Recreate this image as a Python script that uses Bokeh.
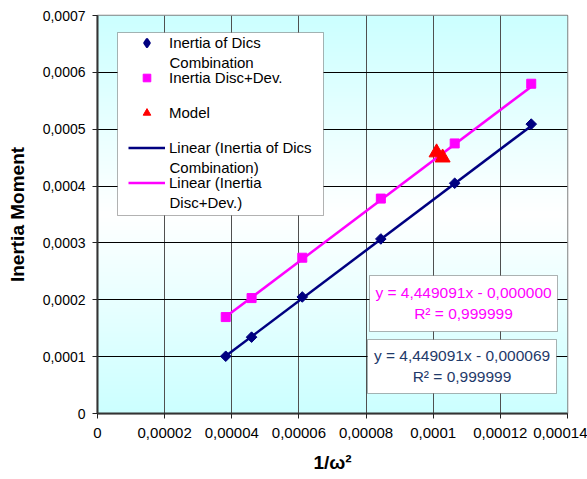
import numpy as np
from bokeh.plotting import figure
from bokeh.models import (Range1d, FixedTicker, CustomJSTickFormatter, Legend, LegendItem,
                          BoxAnnotation, Label)
from bokeh.embed import file_html
from bokeh.resources import INLINE

# ---------------- data ----------------
inv_omega2 = [0.0000382, 0.0000459, 0.0000610, 0.0000844, 0.0001064, 0.0001292]
inertia_discs = [0.0001007, 0.0001343, 0.0002050, 0.0003070, 0.0004050, 0.0005090]
inertia_disc_dev = [0.0001696, 0.0002030, 0.0002740, 0.0003780, 0.0004750, 0.0005800]
model_x = [0.0001010, 0.0001028]
model_y = [0.0004590, 0.0004500]

# trendline equations as shown on the chart
slope_discs, icpt_discs, r2_discs = 4.449091, -0.000069, 0.999999
slope_dev, icpt_dev, r2_dev = 4.449091, -0.000000, 0.999999

x_ticks = [0, 0.00002, 0.00004, 0.00006, 0.00008, 0.0001, 0.00012, 0.00014]
y_ticks = [0, 0.0001, 0.0002, 0.0003, 0.0004, 0.0005, 0.0006, 0.0007]
XMAX, YMAX = 0.00014, 0.0007

legend_first_lines = ["Inertia of Dics", "Inertia Disc+Dev.", "Model",
                      "Linear (Inertia of Dics", "Linear (Inertia"]
legend_second_lines = {0: "Combination", 3: "Combination)", 4: "Disc+Dev.)"}

# ---------------- layout constants (canvas pixels) ----------------
W, H = 587, 479
FL, FR, FT, FB = 97, 567, 15, 413   # frame edges on the canvas
FONT = "Liberation Sans"
NAVY = "#000080"
MAGENTA = "#FF00FF"
EQ_NAVY = "#1F3A6A"

LEG_L, LEG_R, LEG_T, LEG_B = 117, 323, 32, 215
LEG_GX0, LEG_ROW0, LEG_PITCH, LEG_GH, LEG_LINE2 = 128, 42, 35, 19, 20


def px2x(px):
    return (px - FL) / (FR - FL) * XMAX


def py2y(py):
    return (FB - py) / (FB - FT) * YMAX


p = figure(width=W, height=H, output_backend="svg", toolbar_location=None,
           x_range=Range1d(0, XMAX), y_range=Range1d(0, YMAX),
           min_border_left=FL, min_border_right=W - FR,
           min_border_top=FT, min_border_bottom=H - FB)
p.background_fill_color = "white"
p.border_fill_color = "white"
p.outline_line_color = "#808080"
p.outline_line_width = 1.5

# background gradient of the plot area (cyan - white - cyan)
ny = 200
t = np.abs(np.linspace(-1, 1, ny))
img = np.empty((ny, 1), dtype=np.uint32)
view = img.view(dtype=np.uint8).reshape((ny, 1, 4))
view[:, 0, 0] = (255 - 51 * t).astype(np.uint8)
view[:, 0, 1] = 255
view[:, 0, 2] = 255
view[:, 0, 3] = 255
p.image_rgba(image=[img], x=0, y=0, dw=XMAX, dh=YMAX, level="image")

# axes
fmt = CustomJSTickFormatter(code="""
if (tick == 0) return "0";
var s = String(Number(tick.toPrecision(8)));
return s.replace(".", ",");
""")
for ax, ticks in ((p.xaxis[0], x_ticks), (p.yaxis[0], y_ticks)):
    ax.ticker = FixedTicker(ticks=ticks)
    ax.formatter = fmt
    ax.major_label_text_font = FONT
    ax.major_label_text_color = "black"
    ax.major_tick_in = 0
    ax.major_tick_out = 5
    ax.minor_tick_line_color = None
    ax.major_tick_line_color = "#222222"
    ax.axis_line_color = "#333333"
    ax.axis_line_width = 2
    ax.axis_label_text_font = FONT
    ax.axis_label_text_font_style = "bold"
    ax.axis_label_text_color = "black"

p.xaxis.major_label_text_font_size = "15px"
p.yaxis.major_label_text_font_size = "14px"
p.xaxis.axis_label = "1/ω²"
p.xaxis.axis_label_text_font_size = "19px"
p.xaxis.major_label_standoff = 9
p.xaxis.axis_label_standoff = 11
p.yaxis.axis_label = "Inertia Moment"
p.yaxis.axis_label_text_font_size = "19px"
p.yaxis.major_label_standoff = 7
p.yaxis.axis_label_standoff = 12

p.xgrid.ticker = FixedTicker(ticks=x_ticks)
p.ygrid.ticker = FixedTicker(ticks=y_ticks)
p.xgrid.grid_line_color = "#505050"
p.ygrid.grid_line_color = "black"
p.grid.grid_line_width = 1

# trendlines over the data range
xs = np.array([min(inv_omega2), max(inv_omega2)])
l_discs = p.line(xs, slope_discs * xs + icpt_discs, line_color=NAVY, line_width=2.5)
l_dev = p.line(xs, slope_dev * xs + icpt_dev, line_color=MAGENTA, line_width=2.5)

# data series ("diamond" key drawn underneath the rotated squares; it supplies the legend swatch)
s_discs_key = p.scatter(inv_omega2, inertia_discs, marker="diamond", size=6,
                        fill_color=NAVY, line_color=NAVY, line_width=2.5, line_join="round")
s_discs = p.scatter(inv_omega2, inertia_discs, marker="square", angle=np.pi / 4, size=7.5,
                    fill_color=NAVY, line_color=NAVY)
s_dev = p.scatter(inv_omega2, inertia_disc_dev, marker="square", size=9,
                  fill_color=MAGENTA, line_color=MAGENTA)
s_model = p.scatter(model_x, model_y, marker="triangle", size=15,
                    fill_color="red", line_color="red")

# legend box
p.add_layout(BoxAnnotation(left=px2x(LEG_L), right=px2x(LEG_R), top=py2y(LEG_T),
                           bottom=py2y(LEG_B), fill_color="white", fill_alpha=1,
                           line_color="black", line_width=1, level="annotation"))

renderers = [s_discs_key, s_dev, s_model, l_discs, l_dev]
n_items = len(renderers)
leg_height = n_items * LEG_GH + (n_items - 1) * (LEG_PITCH - LEG_GH)
leg_top = LEG_ROW0 - LEG_GH / 2
legend = Legend(items=[LegendItem(label=lab, renderers=[r])
                       for lab, r in zip(legend_first_lines, renderers)],
                location=(LEG_GX0 - FL, FB - (leg_top + leg_height)))
legend.label_text_font = FONT
legend.label_text_font_size = "15px"
legend.label_text_color = "black"
legend.glyph_width = 37
legend.glyph_height = LEG_GH
legend.label_height = 17
legend.label_standoff = 4
legend.padding = 0
legend.spacing = LEG_PITCH - LEG_GH
legend.margin = 0
legend.border_line_color = None
legend.background_fill_alpha = 0
p.add_layout(legend)

for idx, txt in legend_second_lines.items():
    p.add_layout(Label(x=px2x(LEG_GX0 + 37 + 4), y=py2y(LEG_ROW0 + idx * LEG_PITCH + LEG_LINE2),
                       text=txt, text_align="left", text_baseline="middle", text_font=FONT,
                       text_font_size="15px", text_color="black"))


def eq_box(left, right, top, bottom, lines, ys, cx, color):
    p.add_layout(BoxAnnotation(left=px2x(left), right=px2x(right), top=py2y(top),
                               bottom=py2y(bottom), fill_color="white", fill_alpha=1,
                               line_color="black", line_width=1, level="annotation"))
    for txt, y in zip(lines, ys):
        p.add_layout(Label(x=px2x(cx), y=py2y(y), text=txt, text_align="center",
                           text_baseline="middle", text_font=FONT,
                           text_font_size="15.5px", text_color=color))


def fmt_num(v):
    return f"{v:.6f}".replace(".", ",")


eq_box(369, 557, 275, 331,
       [f"y = {fmt_num(slope_dev)}x - {fmt_num(abs(icpt_dev))}", f"R² = {fmt_num(r2_dev)}"],
       [292, 313], 463, MAGENTA)
eq_box(367, 556, 339, 393,
       [f"y = {fmt_num(slope_discs)}x - {fmt_num(abs(icpt_discs))}", f"R² = {fmt_num(r2_discs)}"],
       [355, 376], 461.5, EQ_NAVY)

open("out.html", "w").write(file_html(p, INLINE))
